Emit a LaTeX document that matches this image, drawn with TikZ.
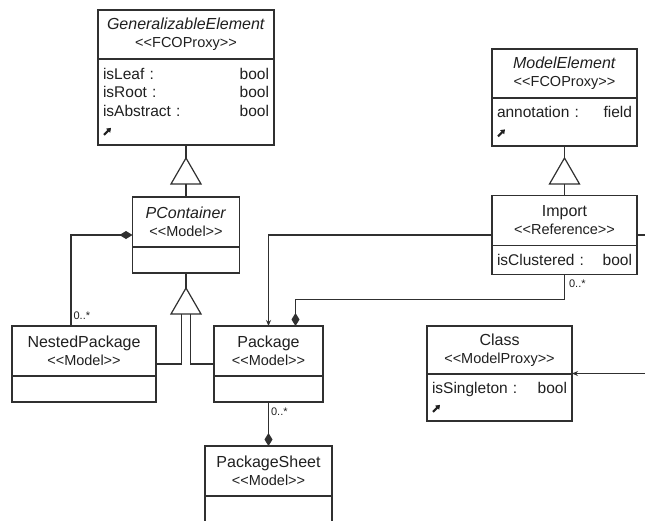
\documentclass[tikz,border=0pt]{standalone}
\usepackage{fontspec}
\setmainfont{Liberation Sans}
\usetikzlibrary{positioning, fit, arrows.meta, shapes.geometric}

\definecolor{umlline}{HTML}{303030}
\definecolor{umltext}{HTML}{202020}

\newcommand{\namefont}{\fontsize{16}{18}\selectfont}
\newcommand{\attrfont}{\fontsize{15.5}{18.5}\selectfont}
\newcommand{\multfont}{\fontsize{11}{12}\selectfont}
\newcommand{\stereo}[1]{{\fontsize{14.5}{18}\selectfont <\kern0pt<#1>\kern0pt>}}
\newcommand{\umlattr}[2]{\makebox[\linewidth]{#1\hfill #2}}
\newcommand{\moreglyph}{\tikz[baseline=0pt]\draw[line width=2pt, -{Triangle[length=4pt,width=5.5pt]}] (0pt,0pt) -- (7pt,7pt);}

\tikzstyle{classhead} = [rectangle, draw=umlline, line width=1.2pt, outer sep=0pt, inner sep=0pt, align=center, text=umltext, font=\namefont]
\tikzstyle{classbody} = [rectangle, draw=umlline, line width=1.2pt, outer sep=0pt, inner xsep=5pt, inner ysep=0pt, align=left, text=umltext, font=\attrfont]
\tikzstyle{classbox} = [rectangle, inner sep=0pt, outer sep=0pt]
\tikzstyle{gentri} = [regular polygon, regular polygon sides=3, draw=umlline, line width=1.2pt, fill=white, minimum size=34.6pt, inner sep=0pt, outer sep=0pt]
\tikzstyle{link} = [draw=umlline, line width=1.2pt]
\tikzstyle{assoc} = [link, -{Stealth[length=6pt,width=5pt]}]
\tikzstyle{compo} = [link, -{Diamond[length=13pt,width=8pt]}]
\tikzstyle{mult} = [text=umltext, font=\multfont, inner sep=2pt]

\begin{document}
\begin{tikzpicture}[x=1pt, y=-1pt]

        \fill[white] (0,0) rectangle (645,520);
        \useasboundingbox (0,0) rectangle (645,520);

        % Classes
        \node (geh) [classhead, minimum width=176pt, minimum height=49pt] at (186,34.5) {\textit{GeneralizableElement}\\\stereo{FCOProxy}};
        \node (geb) [classbody, text width=166pt, minimum height=86pt, below=0pt of geh] {\umlattr{isLeaf :}{bool}\\\umlattr{isRoot :}{bool}\\\umlattr{isAbstract :}{bool}\\\moreglyph};
        \node (ge) [classbox, fit=(geh)(geb)] {};

        \node (meh) [classhead, minimum width=145pt, minimum height=49pt] at (564.5,73.5) {\textit{ModelElement}\\\stereo{FCOProxy}};
        \node (meb) [classbody, text width=135pt, minimum height=48pt, below=0pt of meh] {\umlattr{annotation :}{field}\\\moreglyph};
        \node (me) [classbox, fit=(meh)(meb)] {};

        \node (pch) [classhead, minimum width=107pt, minimum height=50pt] at (186,222) {\textit{PContainer}\\\stereo{Model}};
        \node (pcb) [classbody, minimum width=107pt, minimum height=26pt, below=0pt of pch] {};
        \node (pc) [classbox, fit=(pch)(pcb)] {};

        \node (imph) [classhead, minimum width=145pt, minimum height=50pt] at (564.5,220.5) {Import\\\stereo{Reference}};
        \node (impb) [classbody, text width=135pt, minimum height=29pt, below=0pt of imph] {\umlattr{isClustered :}{bool}};
        \node (imp) [classbox, fit=(imph)(impb)] {};

        \node (nph) [classhead, minimum width=144pt, minimum height=50pt] at (84,351) {NestedPackage\\\stereo{Model}};
        \node (npb) [classbody, minimum width=144pt, minimum height=26pt, below=0pt of nph] {};
        \node (np) [classbox, fit=(nph)(npb)] {};

        \node (pkgh) [classhead, minimum width=109pt, minimum height=50pt] at (268.5,351) {Package\\\stereo{Model}};
        \node (pkgb) [classbody, minimum width=109pt, minimum height=26pt, below=0pt of pkgh] {};
        \node (pkg) [classbox, fit=(pkgh)(pkgb)] {};

        \node (clsh) [classhead, minimum width=145pt, minimum height=48pt] at (499.5,350) {Class\\\stereo{ModelProxy}};
        \node (clsb) [classbody, text width=135pt, minimum height=47pt, below=0pt of clsh] {\umlattr{isSingleton :}{bool}\\\moreglyph};
        \node (cls) [classbox, fit=(clsh)(clsb)] {};

        \node (psh) [classhead, minimum width=127pt, minimum height=50pt] at (268.5,471) {PackageSheet\\\stereo{Model}};
        \node (psb) [classbody, minimum width=127pt, minimum height=40pt, below=0pt of psh] {};
        \node (ps) [classbox, fit=(psh)(psb)] {};

        % Generalisation triangles
        \node (t1) [gentri] at (186,175.3) {};
        \node (t2) [gentri] at (186,305.3) {};
        \node (t3) [gentri] at (564.5,175.3) {};

        \coordinate (impout) at (650,235);
        \coordinate (clsin) at (650,373.5);

        % Connectors
        \draw [link] (ge.south) -- (t1.corner 1);
        \draw [link] (t1.side 2) -- (pc.north);
        \draw [link] (me.south) -- (t3.corner 1);
        \draw [link] (t3.side 2) -- (imp.north);
        \draw [link] (pc.south) -- (t2.corner 1);
        \draw [link] (np.east) -| ([xshift=-4.5pt]t2.side 2);
        \draw [link] (pkg.west) -| ([xshift=4.5pt]t2.side 2);
        \draw [compo] ([xshift=-13pt]np.north) node[mult, anchor=south west, yshift=4pt] {0..*} |- (pc.west);
        \draw [assoc] (imp.west) -| (pkg.north);
        \draw [link] (imp.east) -- (impout);
        \draw [compo] (imp.south) node[mult, anchor=north west, xshift=2pt, yshift=-3pt] {0..*} -- ++(0,25) -| ([xshift=27pt]pkg.north);
        \draw [compo] (pkg.south) node[mult, anchor=north west, yshift=-3pt] {0..*} -- (ps.north);
        \draw [assoc] (clsin) -- (cls.east);
    \end{tikzpicture}
\end{document}
